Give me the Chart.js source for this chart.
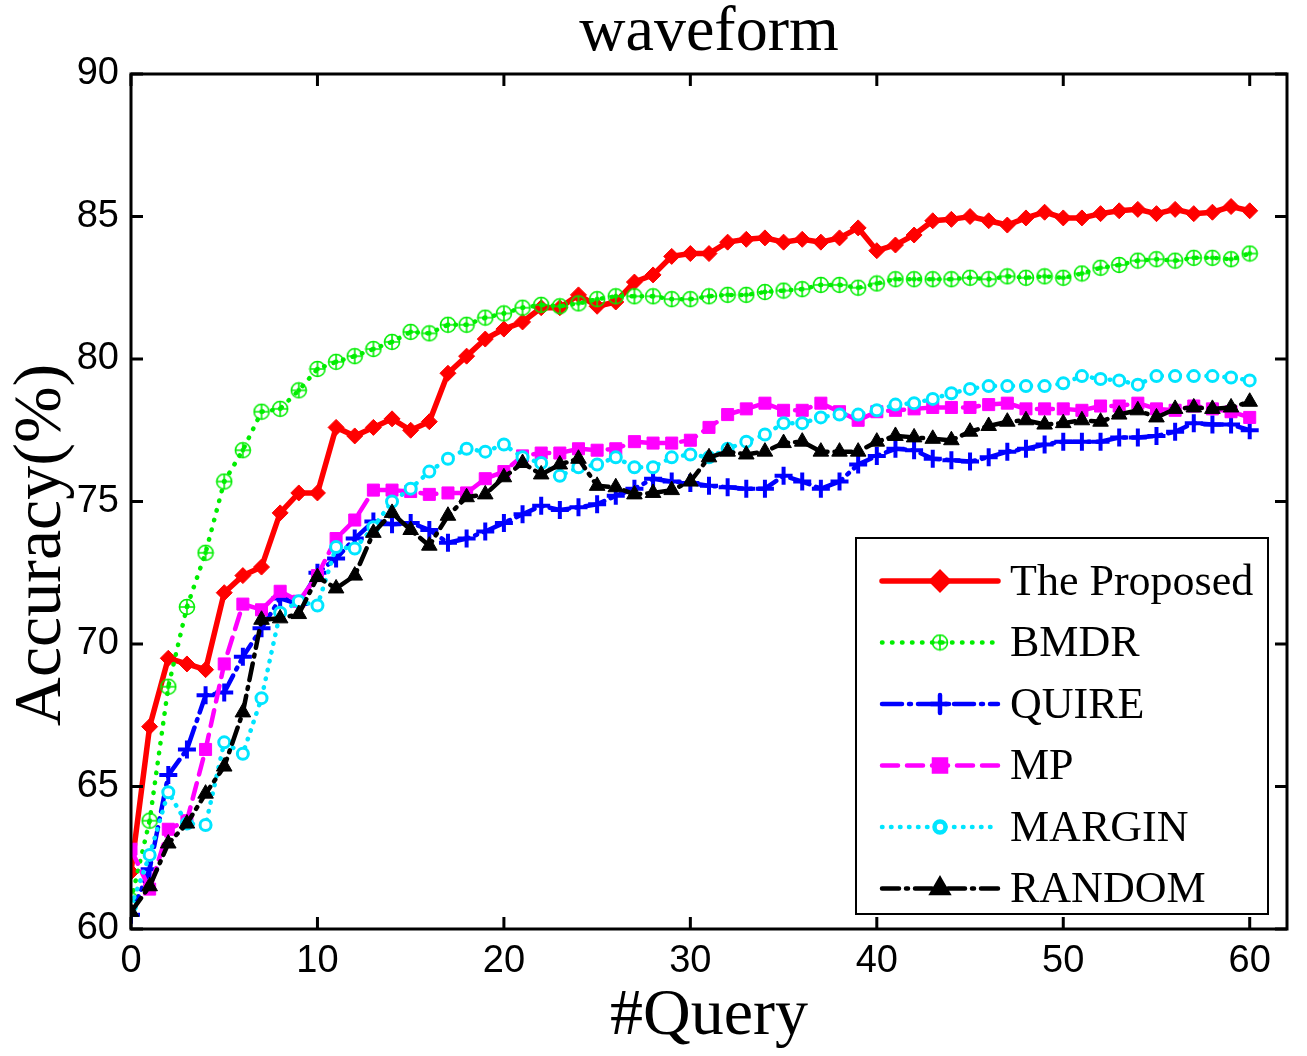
<!DOCTYPE html>
<html>
<head>
<meta charset="utf-8">
<script src="https://cdn.jsdelivr.net/npm/chart.js@4"></script>
<style>
  body { margin: 0; background: #fff; }
  #wrap { width: 1307px; height: 1056px; }
</style>
</head>
<body>
<div id="wrap"><canvas id="acc"></canvas></div>
<script>
// values, one entry per query 0..60
var queries = Array.from({length: 61}, function (_, i) { return i; });
var xTicks = [0, 10, 20, 30, 40, 50, 60];
var yTicks = [60, 65, 70, 75, 80, 85, 90];

var proposed = [62.0, 67.1, 69.5, 69.3, 69.1, 71.8, 72.4, 72.7, 74.6, 75.3,
  75.3, 77.6, 77.3, 77.6, 77.9, 77.5, 77.8, 79.5, 80.1, 80.7,
  81.05, 81.3, 81.8, 81.8, 82.25, 81.85, 82.0, 82.7, 82.95, 83.6,
  83.7, 83.7, 84.1, 84.2, 84.25, 84.1, 84.2, 84.1, 84.25, 84.6,
  83.8, 84.0, 84.35, 84.85, 84.9, 85.0, 84.85, 84.7, 84.95, 85.15,
  84.95, 84.95, 85.1, 85.2, 85.25, 85.1, 85.25, 85.1, 85.15, 85.35, 85.2];
var bmdr = [61.0, 63.8, 68.5, 71.3, 73.2, 75.7, 76.8, 78.15, 78.25, 78.9,
  79.65, 79.9, 80.1, 80.35, 80.6, 80.95, 80.9, 81.2, 81.2, 81.45,
  81.6, 81.8, 81.9, 81.85, 81.95, 82.1, 82.2, 82.2, 82.2, 82.1,
  82.1, 82.2, 82.25, 82.25, 82.35, 82.4, 82.45, 82.6, 82.6, 82.5,
  82.65, 82.8, 82.8, 82.8, 82.8, 82.85, 82.8, 82.9, 82.85, 82.9,
  82.85, 83.0, 83.2, 83.3, 83.45, 83.5, 83.45, 83.55, 83.55, 83.5, 83.7];
var quire = [60.5, 62.1, 65.4, 66.3, 68.2, 68.3, 69.55, 70.55, 71.6, 71.4,
  72.5, 73.0, 73.7, 74.3, 74.2, 74.25, 74.0, 73.55, 73.7, 73.95,
  74.25, 74.55, 74.85, 74.7, 74.8, 74.9, 75.2, 75.45, 75.8, 75.7,
  75.65, 75.55, 75.5, 75.45, 75.45, 75.9, 75.7, 75.45, 75.7, 76.3,
  76.6, 76.85, 76.8, 76.5, 76.45, 76.4, 76.55, 76.75, 76.85, 77.0,
  77.1, 77.1, 77.1, 77.25, 77.25, 77.3, 77.45, 77.75, 77.7, 77.7, 77.5];
var mp = [62.8, 61.4, 63.5, 63.8, 66.3, 69.3, 71.4, 71.2, 71.85, 71.5,
  72.4, 73.7, 74.35, 75.4, 75.4, 75.35, 75.25, 75.3, 75.3, 75.8,
  76.05, 76.6, 76.7, 76.7, 76.85, 76.8, 76.85, 77.1, 77.05, 77.05,
  77.15, 77.6, 78.05, 78.25, 78.45, 78.2, 78.2, 78.45, 78.15, 77.85,
  78.15, 78.2, 78.25, 78.3, 78.3, 78.3, 78.4, 78.45, 78.25, 78.25,
  78.25, 78.2, 78.35, 78.35, 78.45, 78.25, 78.2, 78.35, 78.25, 78.15, 77.95];
var margin = [60.8, 62.6, 64.8, 63.7, 63.65, 66.55, 66.15, 68.1, 71.1, 71.5,
  71.35, 73.4, 73.35, 74.1, 75.0, 75.45, 76.05, 76.5, 76.85, 76.75,
  77.0, 76.55, 76.35, 75.9, 76.2, 76.3, 76.55, 76.2, 76.2, 76.55,
  76.65, 76.55, 76.85, 77.1, 77.35, 77.75, 77.75, 77.95, 78.05, 78.05,
  78.2, 78.4, 78.45, 78.6, 78.8, 78.95, 79.05, 79.05, 79.05, 79.05,
  79.15, 79.4, 79.3, 79.25, 79.1, 79.4, 79.4, 79.4, 79.4, 79.35, 79.25];
var random = [60.6, 61.5, 63.0, 63.7, 64.75, 65.7, 67.6, 70.85, 70.9, 71.05,
  72.35, 71.95, 72.4, 73.9, 74.6, 74.0, 73.45, 74.5, 75.15, 75.25,
  75.85, 76.35, 75.95, 76.3, 76.5, 75.55, 75.5, 75.25, 75.3, 75.4,
  75.7, 76.55, 76.75, 76.65, 76.75, 77.05, 77.1, 76.75, 76.75, 76.75,
  77.1, 77.3, 77.25, 77.2, 77.15, 77.45, 77.65, 77.8, 77.85, 77.7,
  77.75, 77.85, 77.8, 78.05, 78.2, 77.95, 78.25, 78.3, 78.25, 78.3, 78.5];

var serif = '"Liberation Serif", "Times New Roman", serif';
var sans = '"Liberation Sans", Arial, sans-serif';

// circle with a plus inside, like matlab's BMDR marker
function plusCircle(color) {
  var c = document.createElement('canvas');
  c.width = 18; c.height = 18;
  var g = c.getContext('2d');
  g.strokeStyle = color;
  g.lineWidth = 1.6;
  g.beginPath(); g.arc(9, 9, 7.5, 0, Math.PI * 2); g.stroke();
  g.beginPath(); g.moveTo(9, 1.5); g.lineTo(9, 16.5); g.moveTo(1.5, 9); g.lineTo(16.5, 9); g.stroke();
  g.fillStyle = color;
  g.beginPath(); g.arc(9, 9, 2.4, 0, Math.PI * 2); g.fill();
  return c;
}

function pts(arr) {
  return arr.map(function (v, i) { return {x: queries[i], y: v}; });
}

var series = [
  {label: 'The Proposed', data: proposed, color: '#ff0000', width: 5.5, dash: [], style: 'rectRot', r: 8, fill: '#ff0000', pw: 1},
  {label: 'BMDR', data: bmdr, color: '#00ee00', width: 4.5, dash: [0.5, 9.5], style: plusCircle('#00ee00'), r: 9, fill: '#00ee00', pw: 1},
  {label: 'QUIRE', data: quire, color: '#0000ff', width: 4.5, dash: [20, 7, 2, 7], style: 'cross', r: 9, fill: '#0000ff', pw: 4},
  {label: 'MP', data: mp, color: '#ff00ff', width: 4.5, dash: [16, 9], style: 'rect', r: 8.5, fill: '#ff00ff', pw: 1},
  {label: 'MARGIN', data: margin, color: '#00e5ff', width: 4.5, dash: [0.5, 8.5], style: 'circle', r: 5.5, fill: '#ffffff', pw: 3},
  {label: 'RANDOM', data: random, color: '#000000', width: 4.5, dash: [17, 7, 2, 7], style: 'triangle', r: 9, fill: '#000000', pw: 1}
];

var datasets = series.map(function (s, i) {
  return {
    label: s.label,
    data: pts(s.data),
    borderColor: s.color,
    borderWidth: s.width,
    borderDash: s.dash,
    borderCapStyle: 'round',
    pointStyle: s.style,
    pointRadius: s.r,
    pointBorderWidth: s.pw,
    pointBorderColor: s.color,
    pointBackgroundColor: s.fill,
    tension: 0,
    fill: false,
    order: series.length - i
  };
});

// box, inward ticks, titles and the boxed legend
var frame = {
  id: 'frame',
  afterDraw: function (chart) {
    var ctx = chart.ctx, a = chart.chartArea;
    var xs = chart.scales.x, ys = chart.scales.y;
    ctx.save();
    ctx.strokeStyle = '#000';
    ctx.lineWidth = 3;
    ctx.setLineDash([]);
    ctx.strokeRect(a.left, a.top, a.right - a.left, a.bottom - a.top);
    ctx.beginPath();
    xTicks.forEach(function (t) {
      var px = xs.getPixelForValue(t);
      ctx.moveTo(px, a.bottom); ctx.lineTo(px, a.bottom - 12);
      ctx.moveTo(px, a.top); ctx.lineTo(px, a.top + 12);
    });
    yTicks.forEach(function (t) {
      var py = ys.getPixelForValue(t);
      ctx.moveTo(a.left, py); ctx.lineTo(a.left + 12, py);
      ctx.moveTo(a.right, py); ctx.lineTo(a.right - 12, py);
    });
    ctx.stroke();

    ctx.fillStyle = '#000';
    ctx.font = '64px ' + serif;
    ctx.textAlign = 'center';
    ctx.textBaseline = 'alphabetic';
    ctx.fillText('waveform', (a.left + a.right) / 2, 50);

    // y axis title, sits a bit below the plot centre in the original
    ctx.save();
    ctx.translate(42, 545);
    ctx.rotate(-Math.PI / 2);
    ctx.font = '68px ' + serif;
    ctx.textBaseline = 'middle';
    ctx.fillText('Accuracy(%)', 0, 0);
    ctx.restore();

    // legend
    var lx = a.right - 431, ly = a.bottom - 391, lw = 412, lh = 376;
    ctx.fillStyle = '#fff';
    ctx.fillRect(lx, ly, lw, lh);
    ctx.lineWidth = 2;
    ctx.strokeRect(lx, ly, lw, lh);
    ctx.font = '44px ' + serif;
    ctx.textAlign = 'left';
    ctx.textBaseline = 'middle';
    chart.data.datasets.forEach(function (d, i) {
      var s = series[i];
      var yy = ly + 43 + i * 61.5;
      ctx.save();
      ctx.strokeStyle = s.color;
      ctx.lineWidth = s.width;
      ctx.lineCap = 'round';
      ctx.setLineDash(s.dash);
      ctx.beginPath(); ctx.moveTo(lx + 26, yy); ctx.lineTo(lx + 142, yy); ctx.stroke();
      ctx.setLineDash([]);
      ctx.fillStyle = s.fill;
      ctx.strokeStyle = s.color;
      Chart.helpers.drawPoint(ctx, {pointStyle: s.style, radius: s.r, borderWidth: s.pw, rotation: 0}, lx + 84, yy);
      ctx.restore();
      ctx.fillStyle = '#000';
      ctx.fillText(d.label, lx + 154, yy + 2);
    });
    ctx.restore();
  }
};

new Chart(document.getElementById('acc').getContext('2d'), {
  type: 'line',
  data: {datasets: datasets},
  options: {
    responsive: true,
    maintainAspectRatio: false,
    animation: false,
    layout: {padding: {top: 74, right: 20, left: 0, bottom: 0}},
    plugins: {legend: {display: false}, tooltip: {enabled: false}},
    scales: {
      x: {
        type: 'linear', min: 0, max: 62,
        grid: {display: false, drawTicks: false},
        border: {display: false},
        ticks: {stepSize: 10, includeBounds: false, padding: 10, color: '#000', font: {family: sans, size: 38}},
        title: {display: true, text: '#Query', color: '#000', font: {family: serif, size: 66}, padding: {top: 0, bottom: 0}},
        afterFit: function (s) { s.height = 127; }
      },
      y: {
        min: 60, max: 90,
        grid: {display: false, drawTicks: false},
        border: {display: false},
        ticks: {stepSize: 5, padding: 12, color: '#000', font: {family: sans, size: 38}},
        afterFit: function (s) { s.width = 131; }
      }
    }
  },
  plugins: [frame]
});
</script>
</body>
</html>
